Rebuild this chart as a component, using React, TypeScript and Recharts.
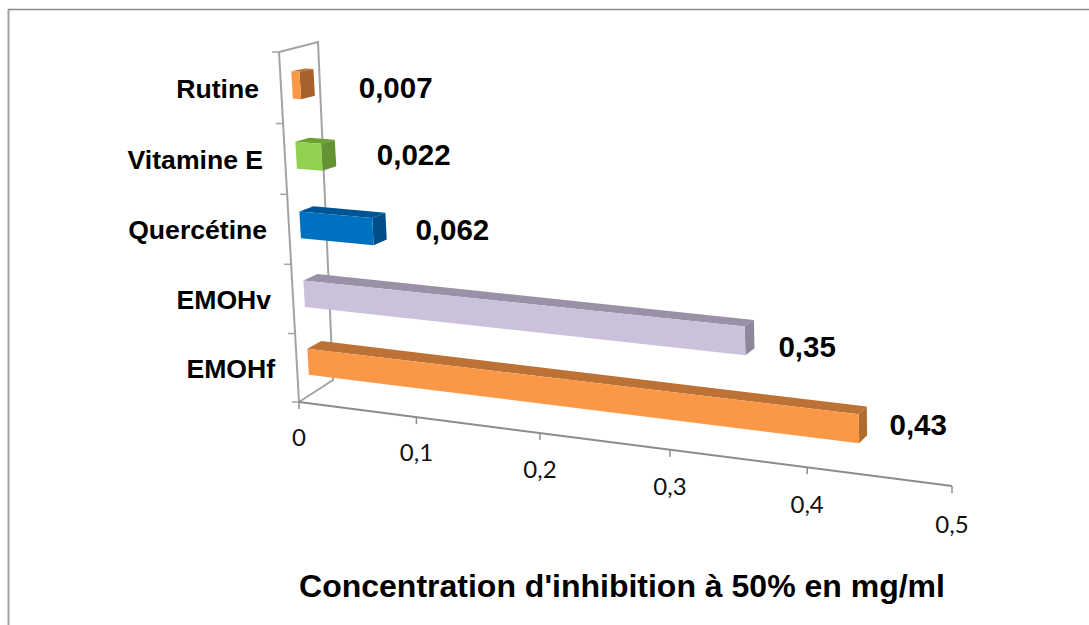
import { Bar, BarChart, LabelList, XAxis, YAxis } from 'recharts'

const categories = ['Rutine', 'Vitamine E', 'Quercétine', 'EMOHv', 'EMOHf']
const values = [0.007, 0.022, 0.062, 0.35, 0.43]
const valueTicks = [0, 0.1, 0.2, 0.3, 0.4, 0.5]
const axisTitle = "Concentration d'inhibition à 50% en mg/ml"

const frontColors = ['#FB9846', '#92D050', '#0070C0', '#CCC1DA', '#FB9848']
const topColors = ['#B96F32', '#6CA02F', '#005494', '#9A91A6', '#BC7234']
const sideColors = ['#A5622B', '#649334', '#004E87', '#8E8699', '#B06B30']

const WIDTH = 1089
const HEIGHT = 625
const PLOT = { left: 299, top: 52, width: 653, height: 350 }

// nudges from the bar end to where each value label sits
const labelNudge = [
  [58.5, 2],
  [55, -3],
  [42.5, -2],
  [33.3, 5.5],
  [30.5, -4],
]

// the picture is a 3D Excel chart, so flat plot coordinates go through a homography
const quad = [
  [279, 52],
  [950, 88],
  [952, 486],
  [299, 402],
]

const makeHomography = () => {
  const [[x0, y0], [x1, y1], [x2, y2], [x3, y3]] = quad
  const dx1 = x1 - x2
  const dx2 = x3 - x2
  const sx = x0 - x1 + x2 - x3
  const dy1 = y1 - y2
  const dy2 = y3 - y2
  const sy = y0 - y1 + y2 - y3
  const den = dx1 * dy2 - dx2 * dy1
  const g = (sx * dy2 - dx2 * sy) / den
  const h = (dx1 * sy - sx * dy1) / den
  const a = x1 - x0 + g * x1
  const b = x3 - x0 + h * x3
  const d = y1 - y0 + g * y1
  const e = y3 - y0 + h * y3
  return (u: number, v: number) => {
    const w = g * u + h * v + 1
    return [(a * u + b * v + x0) / w, (d * u + e * v + y0) / w]
  }
}

const wall = makeHomography()

const toU = (x: number) => (x - PLOT.left) / PLOT.width
const toV = (y: number) => (y - PLOT.top) / PLOT.height

// front face of the bars sits a bit in front of the wall
const front = (u: number, v: number) => {
  const [x, y] = wall(u, v)
  return [x + 11 - 1.5 * u, y - 3 - 4 * v]
}

const back = (u: number, v: number) => {
  const [x, y] = front(u, v)
  return [x + 14 - 7 * u, y - 2.5 - 6 * v]
}

const pts = (list: number[][]) => list.map((p) => p.join(',')).join(' ')

const Bar3D = (props: any) => {
  const { x, y, width, height, index } = props
  const u0 = toU(x)
  const u1 = toU(x + width)
  const v0 = toV(y)
  const v1 = toV(y + height)
  return (
    <g>
      <polygon points={pts([front(u0, v0), back(u0, v0), back(u1, v0), front(u1, v0)])} fill={topColors[index]} />
      <polygon points={pts([front(u1, v0), back(u1, v0), back(u1, v1), front(u1, v1)])} fill={sideColors[index]} />
      <polygon points={pts([front(u0, v0), front(u1, v0), front(u1, v1), front(u0, v1)])} fill={frontColors[index]} />
    </g>
  )
}

const ValueTick = (props: any) => {
  const u = toU(props.x)
  const [x, y] = wall(u, 1)
  return (
    <g>
      <line x1={x} y1={y} x2={x} y2={y + 7} stroke="#8c8c8c" strokeWidth={1.5} />
      <text x={x} y={y + 34 + 3 * u} textAnchor="middle" dominantBaseline="central" fontFamily="Lato" fontSize={24} fill="#111">
        {String(props.payload.value).replace('.', ',')}
      </text>
    </g>
  )
}

const CategoryTick = (props: any) => {
  const [x, y] = wall(0, toV(props.y))
  return (
    <text x={x - 22} y={y + 1} textAnchor="end" dominantBaseline="central" fontFamily="Liberation Sans" fontWeight="bold" fontSize={26.6} fill="#000">
      {props.payload.value}
    </text>
  )
}

const ValueLabel = (props: any) => {
  const { x, y, width, height, value, index } = props
  const [fx, fy] = front(toU(x + width), toV(y + height / 2))
  return (
    <text
      x={fx + labelNudge[index][0]}
      y={fy + labelNudge[index][1]}
      dominantBaseline="central"
      fontFamily="Liberation Sans"
      fontWeight="bold"
      fontSize={29.5}
      fill="#000"
    >
      {String(value).replace('.', ',')}
    </text>
  )
}

const Walls = () => {
  const backCorner = (v: number) => {
    const [x, y] = wall(0, v)
    return v === 0 ? [x + 39, y - 10] : [x + 34, y - 22]
  }
  return (
    <g fill="none" stroke="#a3a3a3">
      <line x1={8.5} y1={9.5} x2={8.5} y2={HEIGHT} strokeWidth={2} />
      <line x1={8} y1={9.5} x2={WIDTH} y2={9.5} stroke="#8a8a8a" strokeWidth={1.5} />
      <polyline points={pts([wall(0, 1), wall(0, 0), backCorner(0), backCorner(1), wall(0, 1)])} strokeWidth={2} />
      <line x1={wall(0, 1)[0]} y1={wall(0, 1)[1]} x2={wall(1, 1)[0]} y2={wall(1, 1)[1]} stroke="#8c8c8c" strokeWidth={2} />
      {categories.concat('').map((_, i) => {
        const [x, y] = wall(0, i / categories.length)
        return <line key={i} x1={x - 7} y1={y} x2={x} y2={y} strokeWidth={1.5} />
      })}
    </g>
  )
}

const data = categories.map((name, i) => ({ name, value: values[i] }))

export default function App() {
  return (
    <div style={{ position: 'absolute', left: 0, top: 0, width: WIDTH, height: HEIGHT, background: '#fff' }}>
      <BarChart
        width={WIDTH}
        height={HEIGHT}
        data={data}
        layout="vertical"
        barSize={27}
        margin={{
          top: PLOT.top,
          left: PLOT.left - 1,
          right: WIDTH - PLOT.left - PLOT.width,
          bottom: HEIGHT - PLOT.top - PLOT.height - 1,
        }}
      >
        <Walls />
        <XAxis
          type="number"
          domain={[0, 0.5]}
          ticks={valueTicks}
          height={1}
          interval={0}
          axisLine={false}
          tickLine={false}
          tick={<ValueTick />}
        />
        <YAxis type="category" dataKey="name" width={1} interval={0} axisLine={false} tickLine={false} tick={<CategoryTick />} />
        <Bar dataKey="value" isAnimationActive={false} shape={<Bar3D />}>
          <LabelList dataKey="value" content={<ValueLabel />} />
        </Bar>
        <text x={622} y={586} textAnchor="middle" dominantBaseline="central" fontFamily="Liberation Sans" fontWeight="bold" fontSize={32} fill="#000">
          {axisTitle}
        </text>
      </BarChart>
    </div>
  )
}
